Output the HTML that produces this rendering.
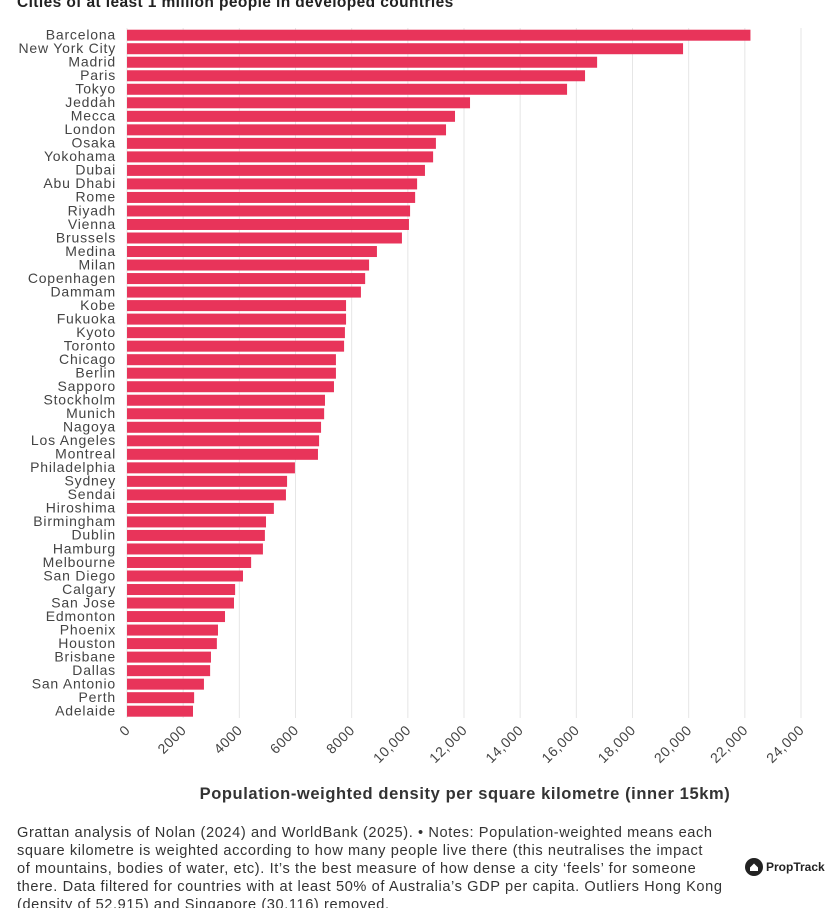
<!DOCTYPE html>
<html><head><meta charset="utf-8"><style>
body{margin:0;background:#fff;font-family:"Liberation Sans",sans-serif;color:#333;}
#wrap{position:relative;width:830px;height:908px;overflow:hidden;}
.title{position:absolute;left:17px;top:-6px;font-weight:bold;font-size:15.5px;letter-spacing:0.4px;color:#222;}
.foot{position:absolute;left:17px;top:824px;white-space:nowrap;font-size:14.6px;letter-spacing:0.6px;line-height:18px;color:#333;}
.logo{position:absolute;left:745px;top:858px;font-size:12px;font-weight:bold;color:#222;display:flex;align-items:center;gap:3px;}
</style></head><body><div id="wrap">
<div class="title">Cities of at least 1 million people in developed countries</div>
<svg id="c" width="830" height="820" style="position:absolute;left:0;top:0"></svg>
<div class="foot">Grattan analysis of Nolan (2024) and WorldBank (2025). • Notes: Population-weighted means each<br>square kilometre is weighted according to how many people live there (this neutralises the impact<br>of mountains, bodies of water, etc). It’s the best measure of how dense a city ‘feels’ for someone<br>there. Data filtered for countries with at least 50% of Australia’s GDP per capita. Outliers Hong Kong<br>(density of 52,915) and Singapore (30,116) removed.</div>
<div class="logo"><svg width="18" height="18" viewBox="0 0 18 18"><circle cx="9" cy="9" r="9" fill="#222"/><path d="M5 9.5 L9 5.5 L13 9.5 V13 H5Z" fill="#fff"/></svg>PropTrack</div>
</div>
<script>
const cities=["Barcelona","New York City","Madrid","Paris","Tokyo","Jeddah","Mecca","London","Osaka","Yokohama","Dubai","Abu Dhabi","Rome","Riyadh","Vienna","Brussels","Medina","Milan","Copenhagen","Dammam","Kobe","Fukuoka","Kyoto","Toronto","Chicago","Berlin","Sapporo","Stockholm","Munich","Nagoya","Los Angeles","Montreal","Philadelphia","Sydney","Sendai","Hiroshima","Birmingham","Dublin","Hamburg","Melbourne","San Diego","Calgary","San Jose","Edmonton","Phoenix","Houston","Brisbane","Dallas","San Antonio","Perth","Adelaide"];
const density=[22200,19800,16740,16310,15670,12215,11680,11360,11000,10900,10610,10330,10260,10080,10040,9790,8900,8620,8480,8330,7800,7800,7760,7730,7440,7440,7370,7050,7020,6910,6840,6800,5980,5700,5660,5230,4950,4910,4840,4420,4130,3850,3810,3490,3240,3200,2990,2960,2740,2390,2350];
const ticks=[0,2000,4000,6000,8000,10000,12000,14000,16000,18000,20000,22000,24000];
const tickLabels=["0","2000","4000","6000","8000","10,000","12,000","14,000","16,000","18,000","20,000","22,000","24,000"];
const svg=document.getElementById('c');const NS='http://www.w3.org/2000/svg';
const x0=127,x1=801,xmax=24000;const x=v=>x0+(x1-x0)*v/xmax;
const yTop=28.5,pitch=13.52;const y=i=>yTop+i*pitch;
function mk(t,a){const e=document.createElementNS(NS,t);for(const k in a)e.setAttribute(k,a[k]);svg.appendChild(e);return e;}
ticks.forEach((t,i)=>{
 const g=mk('line',{x1:x(t),x2:x(t),y1:28,y2:718,stroke:'#e6e6e6','stroke-width':1});
 
 
 const tx=mk('text',{x:x(t)+4,y:731,'font-size':14,'letter-spacing':0.6,fill:'#444','text-anchor':'end',transform:`rotate(-45 ${x(t)+4} 731)`});
 tx.textContent=tickLabels[i];
 
 
});
cities.forEach((c,i)=>{
 const r=mk('rect',{x:x0,y:y(i)+1.2,width:x(density[i])-x0,height:11,fill:'#e8345a'});
 
 
 const t=mk('text',{x:116,y:y(i)+11,'font-size':14,'letter-spacing':0.8,fill:'#444','text-anchor':'end'});
 t.textContent=c;
 
 
});
const at=mk('text',{x:465,y:799,'font-size':16.5,'letter-spacing':0.6,'font-weight':'bold',fill:'#333','text-anchor':'middle'});
at.textContent='Population-weighted density per square kilometre (inner 15km)';


</script></body></html>
